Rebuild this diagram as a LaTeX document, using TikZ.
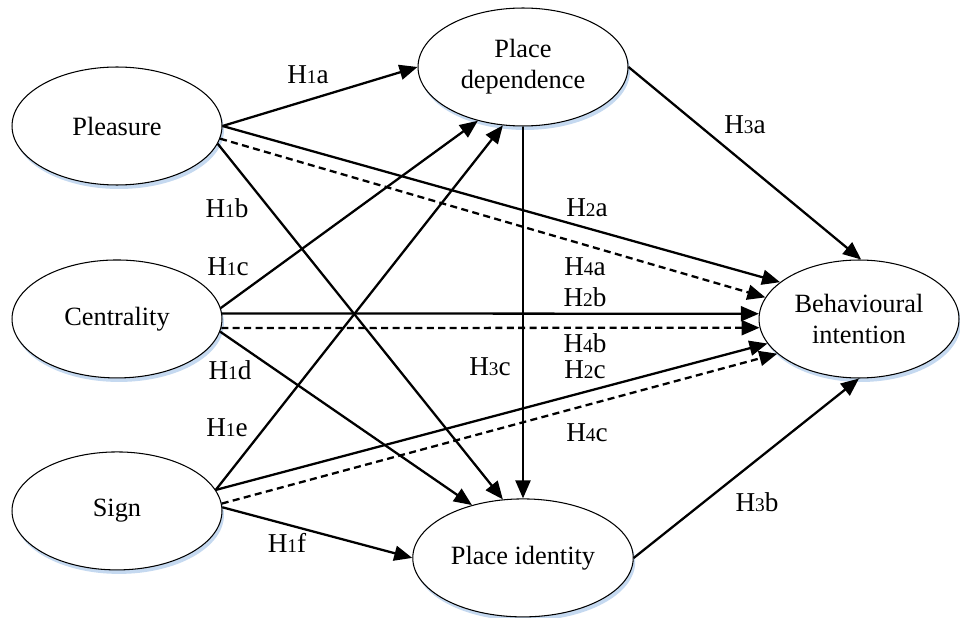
\documentclass[tikz,border=0pt]{standalone}
\usepackage{fontspec}
\setmainfont{Liberation Serif}
\usetikzlibrary{positioning,shapes.geometric,arrows.meta,shadows}
\definecolor{shadowblue}{RGB}{197,217,240}
\newcommand{\hyp}[2]{H{\fontsize{11}{12}\selectfont #1}#2}
\tikzstyle{construct} = [draw, ellipse, line width=0.6pt, fill=white, minimum width=4.2cm, minimum height=2.36cm, align=center, font=\fontsize{15}{17.5}\selectfont, drop shadow={shadow xshift=0.04cm, shadow yshift=-0.08cm, fill=shadowblue, opacity=1}]
\tikzstyle{lab} = [font=\fontsize{15.5}{17}\selectfont, inner sep=0pt]
\tikzstyle{link} = [-{Triangle[length=0.36cm,width=0.3cm]}, line width=1.3pt]
\tikzstyle{dlink} = [link, dash pattern=on 4pt off 2.5pt]

\begin{document}
\begin{tikzpicture}[x=0.02cm, y=-0.02cm, node distance=3.86cm]
	\useasboundingbox (0,0) rectangle (960,618);
	\node (pl) [construct] at (117,126) {Pleasure};
	\node (ce) [construct, below of=pl] {Centrality};
	\node (si) [construct, below of=ce, node distance=3.84cm] {Sign};
	\node (pd) [construct] at (523,67) {Place\\dependence};
	\node (pi) [construct, below of=pd, node distance=9.82cm] {Place identity};
	\node (bi) [construct, minimum width=4cm] at (859,319) {Behavioural\\intention};
	% H1: antecedents to place attachment
	\draw [link] (pl.east) -- (pd.west);
	\draw [link] (pl.-10) -- (pi.109);
	\draw [link] (ce.6) -- (pd.-130);
	\draw [link] (ce.-7) -- (pi.134);
	\draw [link] (si.12) -- (pd.-109);
	\draw [link] (si.2) -- (pi.west);
	% H2 and H4: antecedents to intention
	\draw [link] (pl.east) -- (bi.155);
	\draw [dlink] (pl.-7) -- (bi.167);
	\draw [link] (ce.3) -- (bi.177);
	\draw [dlink] (ce.-5) -- (bi.185);
	\draw [link] (si.12) -- (bi.195);
	\draw [dlink] (si.4) -- (bi.203);
	% H3: place attachment
	\draw [link] (pd.east) -- (bi.88);
	\draw [link] (pd.south) -- (pi.north);
	\draw [link] (pi.east) -- (bi.south);
	% labels
	\node (h1a) [lab] at (308,75) {\hyp{1}{a}};
	\node (h1b) [lab] at (227,208) {\hyp{1}{b}};
	\node (h1c) [lab] at (228,267) {\hyp{1}{c}};
	\node (h1d) [lab] at (230,370) {\hyp{1}{d}};
	\node (h1e) [lab] at (227,428) {\hyp{1}{e}};
	\node (h1f) [lab] at (287,543) {\hyp{1}{f}};
	\node (h2a) [lab] at (587,208) {\hyp{2}{a}};
	\node (h4a) [lab] at (585,267) {\hyp{4}{a}};
	\node (h2b) [lab] at (585,297) {\hyp{2}{b}};
	\node (h4b) [lab] at (585,343) {\hyp{4}{b}};
	\node (h2c) [lab] at (585,370) {\hyp{2}{c}};
	\node (h4c) [lab] at (587,433) {\hyp{4}{c}};
	\node (h3a) [lab] at (745,125) {\hyp{3}{a}};
	\node (h3b) [lab] at (757,502) {\hyp{3}{b}};
	\node (h3c) [lab] at (490,367) {\hyp{3}{c}};
\end{tikzpicture}
\end{document}
